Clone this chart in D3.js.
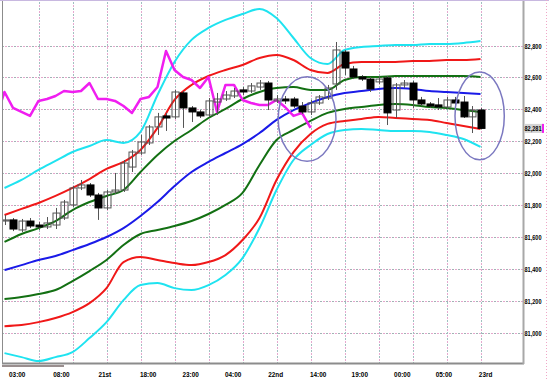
<!DOCTYPE html>
<html><head><meta charset="utf-8">
<script src="https://cdn.jsdelivr.net/npm/d3@7"></script>
<style>html,body{margin:0;padding:0;background:#fff;}svg{display:block;}</style>
</head><body>
<svg id="chart" width="549" height="379"></svg>
<script>
// ---- Data (hourly candles, index 0..56) ----
const candleOpen = [
 81701,81708,81645,81701,81676,81664,81676,81720,81802,81908,
 81927,81864,81783,81883,81895,82039,82127,82190,82290,82359,
 82353,82503,82409,82384,82365,82446,82465,82484,82522,82515,
 82540,82565,82453,82465,82465,82421,82384,82440,82471,82559,
 82759,82653,82603,82590,82572,82597,82396,82553,82565,82459,
 82434,82428,82415,82459,82446,82353,82396];
const candleHigh = [
 81739,81720,81714,81720,81695,81726,81783,81833,81920,81958,
 81939,81877,81895,82002,82083,82146,82240,82302,82378,82378,
 82522,82515,82421,82396,82471,82503,82515,82534,82540,82565,
 82584,82578,82490,82484,82478,82446,82459,82490,82553,82822,
 82772,82672,82615,82603,82609,82609,82565,82584,82578,82478,
 82446,82471,82478,82478,82484,82421,82409];
const candleLow = [
 81676,81638,81632,81657,81645,81651,81651,81708,81789,81895,
 81851,81708,81770,81870,81883,82008,82115,82177,82240,82265,
 82340,82284,82321,82346,82353,82365,82453,82471,82490,82503,
 82522,82396,82440,82434,82409,82371,82365,82428,82459,82522,
 82615,82590,82578,82509,82559,82302,82346,82534,82409,82421,
 82409,82396,82403,82428,82346,82252,82278];
const candleClose = [
 81708,81651,81701,81670,81664,81689,81751,81820,81908,81927,
 81864,81783,81883,81895,82064,82133,82196,82290,82353,82346,
 82509,82409,82384,82359,82453,82465,82490,82515,82509,82547,
 82565,82459,82465,82453,82421,82384,82440,82478,82534,82772,
 82659,82603,82590,82528,82590,82378,82553,82565,82459,82434,
 82421,82415,82459,82440,82353,82396,82281];

// lagging span (magenta), starts at candle index -1
const laggingStart = -1;
const laggingSpan = [
 82346,82509,82409,82384,82359,82453,82465,82484,82515,82509,82515,
 82565,82465,82465,82453,82421,82378,82465,82478,82540,82766,
 82647,82603,82584,82534,82603,82384,82553,82553,82459,82440,
 82428,82428,82459,82415,82359,82378,82284];

// band lines sampled every 2 candles
const bandIndex = [0,2,4,6,8,10,12,14,16,18,20,22,24,26,28,30,32,34,36,38,40,42,44,46,48,50,52,54,56];
const cyanUpper = [81908,81958,82021,82077,82133,82171,82208,82190,82259,82490,82697,82835,82910,82960,82997,83029,82972,82847,82722,82684,82772,82791,82797,82803,82803,82810,82810,82816,82828];
const redUpper = [81739,81777,81814,81858,81908,81964,82027,82071,82146,82284,82459,82553,82609,82647,82678,82722,82741,82709,82647,82628,82684,82697,82697,82697,82703,82703,82709,82709,82716];
const greenUpper = [81570,81620,81657,81701,81770,81820,81858,81895,82008,82115,82202,82271,82346,82403,82465,82509,82534,82540,82522,82522,82584,82603,82603,82609,82609,82609,82609,82609,82603];
const blueMA = [81394,81425,81457,81482,81519,81557,81601,81657,81733,81820,81920,82008,82071,82127,82183,82252,82334,82396,82440,82478,82503,82515,82528,82534,82528,82515,82509,82503,82497];
const greenLower = [81213,81225,81244,81269,81325,81388,81457,81551,81620,81645,81670,81701,81745,81802,81877,82052,82208,82271,82328,82378,82403,82415,82428,82434,82428,82415,82409,82396,82384];
const redLower = [81043,81050,81068,81094,81131,81187,81281,81444,81476,81457,81438,81425,81444,81488,81582,81720,81958,82133,82246,82309,82328,82340,82353,82346,82340,82334,82315,82296,82277];
const cyanLower = [80874,80849,80824,80849,80880,80968,81068,81206,81300,81313,81281,81269,81300,81363,81469,81657,81895,82083,82177,82246,82271,82277,82271,82265,82265,82259,82240,82215,82165];

const yTicks = [81000,81200,81400,81600,81800,82000,82200,82400,82600,82800];
const xTickLabels = ["03:00","08:00","21st","18:00","23:00","04:00","22nd","14:00","19:00","00:00","05:00","23rd"];
const xTickIndex = [1.5,6.7,11.8,16.9,21.9,26.9,31.9,36.9,41.8,46.8,51.7,56.6];
const gridIndex = [4,8,12,16,20,24,28,32,36,40,44,48,52,56];
const lastPrice = 82281;
// annotation ellipses: centre (candle index, price), radii (candles, price)
const ellipseCx = [35.6, 55.9];
const ellipseCy = [82340, 82359];
const ellipseRx = [3.4, 2.9];
const ellipseRy = [265, 275];

// ---- Layout ----
const W = 549, H = 379;
const plot = {left:2, top:2, right:523, bottom:363};
const svg = d3.select("#chart");
svg.append("rect").attr("width",W).attr("height",H).attr("fill","#fff");

const x = d3.scaleLinear().domain([0,56]).range([4.5,480.5]);
const y = d3.scaleLinear().domain([81000,82800]).range([333,45.5]);

svg.append("defs").append("clipPath").attr("id","clip")
  .append("rect").attr("x",plot.left).attr("y",plot.top)
  .attr("width",plot.right-plot.left).attr("height",plot.bottom-plot.top);

// grid
const grid = svg.append("g");
yTicks.forEach(t=>{
  const gy = Math.round(y(t))+0.5;
  grid.append("line").attr("x1",plot.left).attr("x2",plot.right).attr("y1",gy).attr("y2",gy)
    .attr("stroke","#9fb4b4").attr("stroke-dasharray","2,4");
  grid.append("line").attr("x1",plot.left+3).attr("x2",plot.right).attr("y1",gy).attr("y2",gy)
    .attr("stroke","#e6a6cc").attr("stroke-dasharray","2,4");
});
gridIndex.forEach(i=>{
  const gx = Math.round(x(i))+0.5;
  grid.append("line").attr("x1",gx).attr("x2",gx).attr("y1",plot.top).attr("y2",plot.bottom)
    .attr("stroke","#9fc0c0").attr("stroke-dasharray","2,4");
  grid.append("line").attr("x1",gx).attr("x2",gx).attr("y1",plot.top+3).attr("y2",plot.bottom)
    .attr("stroke","#e8a8d0").attr("stroke-dasharray","2,4");
});

const body = svg.append("g").attr("clip-path","url(#clip)");

// band lines
const bandLine = d3.line().x((d,i)=>x(bandIndex[i])).y(d=>y(d)).curve(d3.curveMonotoneX);
const bands = [
  [cyanLower,"#1fe3f0"],[cyanUpper,"#1fe3f0"],
  [redLower,"#f01818"],[redUpper,"#f01818"],
  [greenLower,"#137013"],[greenUpper,"#137013"],
  [blueMA,"#1a1ae8"]
];
bands.forEach(([arr,col])=>{
  body.append("path").attr("d",bandLine(arr)).attr("fill","none")
    .attr("stroke",col).attr("stroke-width",2).attr("stroke-linejoin","round");
});

// lagging span
const lagLine = d3.line().x((d,i)=>x(laggingStart+i)).y(d=>y(d));
body.append("path").attr("d",lagLine(laggingSpan)).attr("fill","none")
  .attr("stroke","#f01ef0").attr("stroke-width",2.5).attr("stroke-linejoin","round");

// candles
const cw = 7;
const cg = body.append("g");
candleOpen.forEach((o,i)=>{
  const c = candleClose[i], h = candleHigh[i], l = candleLow[i];
  const cx = Math.round(x(i))+0.5;
  cg.append("line").attr("x1",cx).attr("x2",cx).attr("y1",y(h)).attr("y2",y(l))
    .attr("stroke","#555").attr("stroke-width",1);
  const top = y(Math.max(o,c)), bot = y(Math.min(o,c));
  const bull = c >= o;
  cg.append("rect").attr("x",cx-cw/2).attr("y",top).attr("width",cw)
    .attr("height",Math.max(1,bot-top))
    .attr("fill",bull?"none":"#000").attr("stroke",bull?"#555":"#000").attr("stroke-width",1);
});

// ellipses
ellipseCx.forEach((cxv,k)=>{
  const px = x(cxv), py = y(ellipseCy[k]);
  svg.append("ellipse").attr("cx",px).attr("cy",py)
    .attr("rx",x(cxv+ellipseRx[k])-px).attr("ry",y(ellipseCy[k]-ellipseRy[k])-py)
    .attr("fill","none").attr("stroke","#7b78c0").attr("stroke-width",1.5);
});

// frame
svg.append("line").attr("x1",0).attr("x2",W).attr("y1",0.5).attr("y2",0.5).attr("stroke","#c8b8e0");
svg.append("line").attr("x1",plot.left+0.5).attr("x2",plot.left+0.5).attr("y1",1).attr("y2",plot.bottom).attr("stroke","#8c8c8c");
svg.append("line").attr("x1",plot.left).attr("x2",plot.right+1).attr("y1",plot.bottom+0.5).attr("y2",plot.bottom+0.5).attr("stroke","#8c8c8c").attr("stroke-width",2);
svg.append("line").attr("x1",plot.right+0.5).attr("x2",plot.right+0.5).attr("y1",1).attr("y2",plot.bottom+1).attr("stroke","#a8a8a8").attr("stroke-width",2);
svg.append("rect").attr("x",plot.left).attr("y",plot.bottom+2).attr("width",62).attr("height",2).attr("fill","#9a8f8f");
svg.append("line").attr("x1",546.5).attr("x2",546.5).attr("y1",0).attr("y2",H).attr("stroke","#f0a8c8").attr("stroke-dasharray","1,2");

// axis labels
const font = "Liberation Sans, Arial, sans-serif";
const yl = svg.append("g").selectAll("text").data(yTicks).join("text")
  .attr("x",plot.right+1.5).attr("y",d=>y(d)+3)
  .attr("font-family",font).attr("font-size",8).attr("font-weight","bold")
  .attr("textLength",17).attr("lengthAdjust","spacingAndGlyphs")
  .attr("fill","#000").text(d=>d3.format(",")(d));

// last price marker
const lpY = y(lastPrice);
svg.append("rect").attr("x",plot.right+1).attr("y",lpY-4.5).attr("width",19).attr("height",9).attr("fill","#d4d4d4");
svg.append("rect").attr("x",plot.right+19).attr("y",lpY-4.5).attr("width",2).attr("height",9).attr("fill","#f020f0");
svg.append("text").attr("x",plot.right+1.5).attr("y",lpY+3)
  .attr("font-family",font).attr("font-size",8).attr("font-weight","bold")
  .attr("textLength",17).attr("lengthAdjust","spacingAndGlyphs")
  .attr("fill","#000").text(d3.format(",")(lastPrice));

const xl = svg.append("g").selectAll("text").data(xTickLabels).join("text")
  .attr("x",(d,i)=>x(xTickIndex[i])).attr("y",377).attr("text-anchor","middle")
  .attr("font-family",font).attr("font-size",8).attr("font-weight","bold")
  .attr("fill","#000").text(d=>d);
xl.each(function(){
  const w = this.getComputedTextLength();
  d3.select(this).attr("textLength",w*0.8).attr("lengthAdjust","spacingAndGlyphs");
});
</script>
</body></html>
